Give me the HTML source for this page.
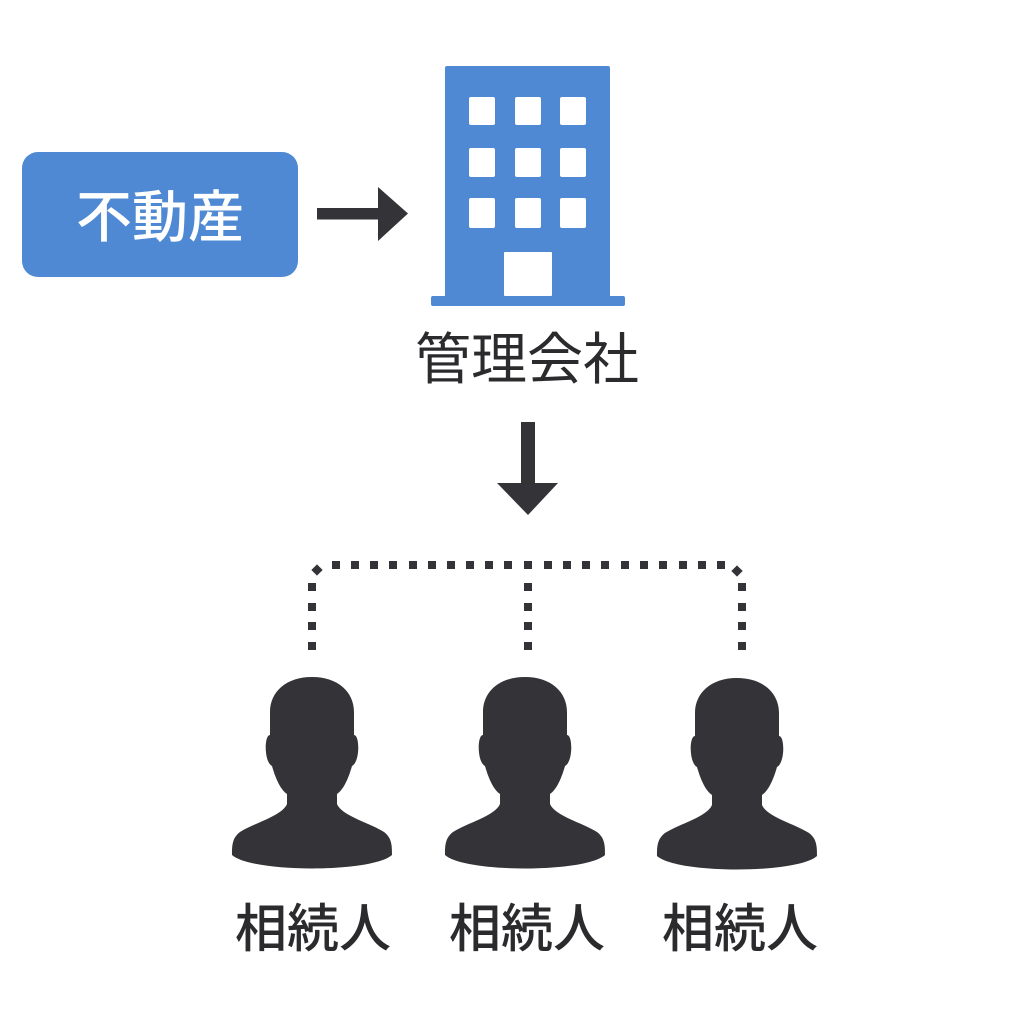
<!DOCTYPE html>
<html>
<head>
<meta charset="utf-8">
<style>
html,body{margin:0;padding:0;background:#ffffff;}
body{width:1024px;height:1024px;overflow:hidden;}
svg{display:block;}
text{font-family:"Liberation Sans","Noto Sans CJK JP",sans-serif;}
</style>
</head>
<body>
<svg width="1024" height="1024" viewBox="0 0 1024 1024" xmlns="http://www.w3.org/2000/svg">
  <defs>
    <path id="person" d="M0 677 C26 677 42 692 42 712 L42 735 C48 735 48 762 40 766 C36 780 31 790 25 794 L25 804 C30 816 58 823 72 832 C80 838 80 846 80 855 C60 873 -60 873 -80 855 C-80 846 -80 838 -72 832 C-58 823 -30 816 -25 804 L-25 794 C-31 790 -36 780 -40 766 C-48 762 -48 735 -42 735 L-42 712 C-42 692 -26 677 0 677 Z"/>
    <rect id="sq" x="-4" y="-4" width="8" height="8" fill="#333338"/>
  </defs>

  <!-- 不動産 box -->
  <rect x="22" y="152" width="276" height="125" rx="16" ry="16" fill="#4f89d3"/>
  <text x="160" y="237" text-anchor="middle" font-size="56" font-weight="500" fill="#ffffff">不動産</text>

  <!-- right arrow -->
  <rect x="317" y="208" width="63" height="11.5" fill="#333338"/>
  <polygon points="378,187 408,213.5 378,241" fill="#333338"/>

  <!-- building -->
  <rect x="445" y="66" width="165" height="234" rx="2" fill="#4f89d3"/>
  <rect x="431" y="296" width="194" height="10" rx="2" fill="#4f89d3"/>
  <g fill="#ffffff">
    <rect x="469" y="97" width="26" height="28" rx="2"/>
    <rect x="515" y="97" width="26" height="28" rx="2"/>
    <rect x="560" y="97" width="26" height="28" rx="2"/>
    <rect x="469" y="148" width="26" height="29" rx="2"/>
    <rect x="515" y="148" width="26" height="29" rx="2"/>
    <rect x="560" y="148" width="26" height="29" rx="2"/>
    <rect x="469" y="198" width="26" height="30" rx="2"/>
    <rect x="515" y="198" width="26" height="30" rx="2"/>
    <rect x="560" y="198" width="26" height="30" rx="2"/>
    <rect x="504" y="252" width="48" height="44" rx="1"/>
  </g>

  <!-- 管理会社 -->
  <text x="527" y="379" text-anchor="middle" font-size="56" font-weight="400" fill="#2b2b2e">管理会社</text>

  <!-- down arrow -->
  <rect x="521" y="422" width="14" height="63" fill="#333338"/>
  <polygon points="497,483 558,483 528,515" fill="#333338"/>

  <!-- dotted connectors -->
  <g>
    <!-- horizontal -->
    <use href="#sq" x="336" y="565"/>
    <use href="#sq" x="355" y="565"/>
    <use href="#sq" x="374" y="565"/>
    <use href="#sq" x="393" y="565"/>
    <use href="#sq" x="413" y="565"/>
    <use href="#sq" x="432" y="565"/>
    <use href="#sq" x="451" y="565"/>
    <use href="#sq" x="470" y="565"/>
    <use href="#sq" x="489" y="565"/>
    <use href="#sq" x="508" y="565"/>
    <use href="#sq" x="528" y="565"/>
    <use href="#sq" x="548" y="565"/>
    <use href="#sq" x="567" y="565"/>
    <use href="#sq" x="586" y="565"/>
    <use href="#sq" x="605" y="565"/>
    <use href="#sq" x="625" y="565"/>
    <use href="#sq" x="644" y="565"/>
    <use href="#sq" x="663" y="565"/>
    <use href="#sq" x="683" y="565"/>
    <use href="#sq" x="702" y="565"/>
    <use href="#sq" x="721" y="565"/>
    <!-- corner diamonds -->
    <rect x="-4" y="-4" width="8" height="8" fill="#333338" transform="translate(317 570) rotate(45)"/>
    <rect x="-4" y="-4" width="8" height="8" fill="#333338" transform="translate(737 571) rotate(45)"/>
    <!-- verticals -->
    <use href="#sq" x="312" y="587"/>
    <use href="#sq" x="312" y="607"/>
    <use href="#sq" x="312" y="626"/>
    <use href="#sq" x="312" y="646"/>
    <use href="#sq" x="528" y="587"/>
    <use href="#sq" x="528" y="607"/>
    <use href="#sq" x="528" y="626"/>
    <use href="#sq" x="528" y="646"/>
    <use href="#sq" x="742" y="587"/>
    <use href="#sq" x="742" y="607"/>
    <use href="#sq" x="742" y="626"/>
    <use href="#sq" x="742" y="646"/>
  </g>

  <!-- persons -->
  <g fill="#333338">
    <use href="#person" x="312" y="0"/>
    <use href="#person" x="525" y="0"/>
    <use href="#person" x="737" y="1"/>
  </g>

  <!-- labels -->
  <g font-size="52" font-weight="500" fill="#2b2b2e" text-anchor="middle">
    <text x="313" y="947">相続人</text>
    <text x="527" y="947">相続人</text>
    <text x="740" y="947">相続人</text>
  </g>
</svg>
</body>
</html>
